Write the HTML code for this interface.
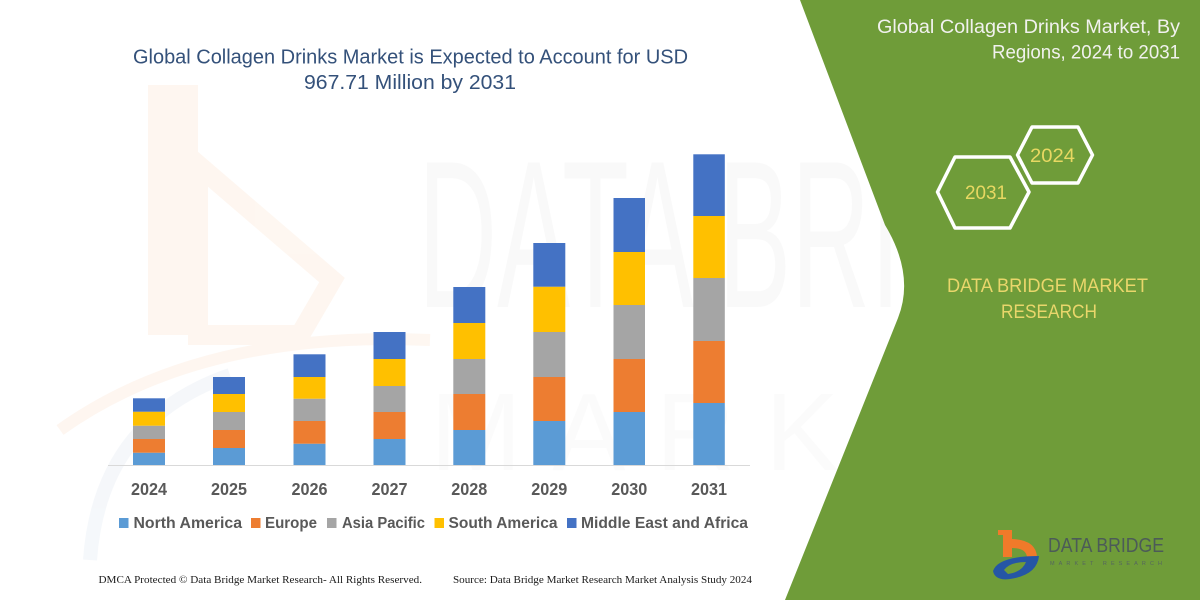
<!DOCTYPE html>
<html>
<head>
<meta charset="utf-8">
<style>
  html,body{margin:0;padding:0;background:#fff;}
  svg{display:block;}
  text{font-family:"Liberation Sans",sans-serif;}
</style>
</head>
<body>
<svg width="1200" height="600" viewBox="0 0 1200 600" xmlns="http://www.w3.org/2000/svg">
  <defs>
    <linearGradient id="ul" x1="0" x2="1" y1="0" y2="0">
      <stop offset="0" stop-color="#d8c35a"/>
      <stop offset="1" stop-color="#7d8c86"/>
    </linearGradient>
  </defs>
  <rect x="0" y="0" width="1200" height="600" fill="#ffffff"/>

  <!-- faint watermark -->
  <g opacity="0.22">
    <rect x="148" y="85" width="50" height="250" fill="#fbd9c0"/>
    <path d="M198,165 L332,280 L300,335 L198,335 Z" fill="none" stroke="#fbd9c0" stroke-width="20"/>
    <path d="M60,430 Q200,330 430,340" fill="none" stroke="#fbd9c0" stroke-width="12"/>
    <path d="M90,560 Q100,420 230,375" fill="none" stroke="#d3deec" stroke-width="14"/>
  </g>
  <text x="418" y="307" font-size="210" textLength="720" lengthAdjust="spacingAndGlyphs" fill="#000" opacity="0.018">DATA BRIDGE</text>
  <text x="430" y="470" font-size="110" textLength="640" lengthAdjust="spacingAndGlyphs" fill="#000" opacity="0.012" letter-spacing="30">MARKET</text>

  <!-- green panel -->
  <path d="M800,0 L885,225 Q915,275 898,318 L785,600 L1200,600 L1200,0 Z" fill="#6f9c39"/>

  <!-- title -->
  <text x="133" y="63.5" font-size="20" fill="#34517a" textLength="555" lengthAdjust="spacingAndGlyphs">Global Collagen Drinks Market is Expected to Account for USD</text>
  <text x="304" y="89" font-size="20" fill="#34517a" textLength="212" lengthAdjust="spacingAndGlyphs">967.71 Million by 2031</text>

  <!-- axis -->
  <line x1="108" y1="465.5" x2="750" y2="465.5" stroke="#d9d9d9" stroke-width="1"/>

  <!-- bars -->
  <g>
    <rect x="133" y="452.7" width="32" height="12.3" fill="#5b9bd5"/>
    <rect x="133" y="439" width="32" height="13.7" fill="#ed7d31"/>
    <rect x="133" y="425.7" width="32" height="13.3" fill="#a5a5a5"/>
    <rect x="133" y="411.7" width="32" height="14" fill="#ffc000"/>
    <rect x="133" y="398.3" width="32" height="13.4" fill="#4472c4"/>

    <rect x="213" y="448" width="32" height="17" fill="#5b9bd5"/>
    <rect x="213" y="430" width="32" height="18" fill="#ed7d31"/>
    <rect x="213" y="412" width="32" height="18" fill="#a5a5a5"/>
    <rect x="213" y="394" width="32" height="18" fill="#ffc000"/>
    <rect x="213" y="377" width="32" height="17" fill="#4472c4"/>

    <rect x="293.5" y="443.7" width="32" height="21.3" fill="#5b9bd5"/>
    <rect x="293.5" y="421" width="32" height="22.7" fill="#ed7d31"/>
    <rect x="293.5" y="398.7" width="32" height="22.3" fill="#a5a5a5"/>
    <rect x="293.5" y="377" width="32" height="21.7" fill="#ffc000"/>
    <rect x="293.5" y="354.3" width="32" height="22.7" fill="#4472c4"/>

    <rect x="373.5" y="439" width="32" height="26" fill="#5b9bd5"/>
    <rect x="373.5" y="412" width="32" height="27" fill="#ed7d31"/>
    <rect x="373.5" y="386" width="32" height="26" fill="#a5a5a5"/>
    <rect x="373.5" y="359" width="32" height="27" fill="#ffc000"/>
    <rect x="373.5" y="332" width="32" height="27" fill="#4472c4"/>

    <rect x="453.3" y="430" width="32" height="35" fill="#5b9bd5"/>
    <rect x="453.3" y="394" width="32" height="36" fill="#ed7d31"/>
    <rect x="453.3" y="359" width="32" height="35" fill="#a5a5a5"/>
    <rect x="453.3" y="323" width="32" height="36" fill="#ffc000"/>
    <rect x="453.3" y="287" width="32" height="36" fill="#4472c4"/>

    <rect x="533.3" y="421" width="32" height="44" fill="#5b9bd5"/>
    <rect x="533.3" y="377" width="32" height="44" fill="#ed7d31"/>
    <rect x="533.3" y="332" width="32" height="45" fill="#a5a5a5"/>
    <rect x="533.3" y="286.7" width="32" height="45.3" fill="#ffc000"/>
    <rect x="533.3" y="243" width="32" height="43.7" fill="#4472c4"/>

    <rect x="613.5" y="412" width="31.5" height="53" fill="#5b9bd5"/>
    <rect x="613.5" y="359" width="31.5" height="53" fill="#ed7d31"/>
    <rect x="613.5" y="305" width="31.5" height="54" fill="#a5a5a5"/>
    <rect x="613.5" y="252" width="31.5" height="53" fill="#ffc000"/>
    <rect x="613.5" y="198" width="31.5" height="54" fill="#4472c4"/>

    <rect x="693.3" y="403" width="31.5" height="62" fill="#5b9bd5"/>
    <rect x="693.3" y="341" width="31.5" height="62" fill="#ed7d31"/>
    <rect x="693.3" y="278" width="31.5" height="63" fill="#a5a5a5"/>
    <rect x="693.3" y="216" width="31.5" height="62" fill="#ffc000"/>
    <rect x="693.3" y="154.3" width="31.5" height="61.7" fill="#4472c4"/>
  </g>

  <!-- year labels -->
  <g font-size="17.5" font-weight="bold" fill="#595959">
    <text x="131" y="495" textLength="36" lengthAdjust="spacingAndGlyphs">2024</text>
    <text x="211" y="495" textLength="36" lengthAdjust="spacingAndGlyphs">2025</text>
    <text x="291.5" y="495" textLength="36" lengthAdjust="spacingAndGlyphs">2026</text>
    <text x="371.5" y="495" textLength="36" lengthAdjust="spacingAndGlyphs">2027</text>
    <text x="451.3" y="495" textLength="36" lengthAdjust="spacingAndGlyphs">2028</text>
    <text x="531.3" y="495" textLength="36" lengthAdjust="spacingAndGlyphs">2029</text>
    <text x="611.3" y="495" textLength="36" lengthAdjust="spacingAndGlyphs">2030</text>
    <text x="691" y="495" textLength="36" lengthAdjust="spacingAndGlyphs">2031</text>
  </g>

  <!-- legend -->
  <g font-size="15.5" font-weight="bold" fill="#595959">
    <rect x="119" y="518" width="9.5" height="10" fill="#5b9bd5"/>
    <text x="133.5" y="528" textLength="108.5" lengthAdjust="spacingAndGlyphs">North America</text>
    <rect x="251" y="518" width="9.5" height="10" fill="#ed7d31"/>
    <text x="265" y="528" textLength="52" lengthAdjust="spacingAndGlyphs">Europe</text>
    <rect x="327" y="518" width="9.5" height="10" fill="#a5a5a5"/>
    <text x="342" y="528" textLength="83" lengthAdjust="spacingAndGlyphs">Asia Pacific</text>
    <rect x="434.5" y="518" width="9.5" height="10" fill="#ffc000"/>
    <text x="448.5" y="528" textLength="109" lengthAdjust="spacingAndGlyphs">South America</text>
    <rect x="567" y="518" width="9.5" height="10" fill="#4472c4"/>
    <text x="581" y="528" textLength="167" lengthAdjust="spacingAndGlyphs">Middle East and Africa</text>
  </g>

  <!-- footer -->
  <g font-size="10.5" fill="#1a1a1a">
    <text x="98.5" y="583" textLength="323.5" lengthAdjust="spacingAndGlyphs" style="font-family:'Liberation Serif',serif">DMCA Protected © Data Bridge Market Research-  All Rights Reserved.</text>
    <text x="453" y="583" textLength="299" lengthAdjust="spacingAndGlyphs" style="font-family:'Liberation Serif',serif">Source: Data Bridge Market Research  Market Analysis Study 2024</text>
  </g>

  <!-- right panel heading -->
  <g font-size="19" fill="#f1f1ee">
    <text x="877" y="33" textLength="303" lengthAdjust="spacingAndGlyphs">Global Collagen Drinks Market, By</text>
    <text x="992" y="58.5" textLength="188" lengthAdjust="spacingAndGlyphs">Regions, 2024 to 2031</text>
  </g>

  <!-- hexagons -->
  <g fill="none" stroke="#ffffff" stroke-width="3.5" stroke-linejoin="round">
    <path d="M937.5,192 L955,157 L1010,157 L1029,192 L1010,228 L955,228 Z"/>
    <path d="M1017.5,155 L1032,127 L1078,127 L1092.5,155 L1078,183 L1032,183 Z"/>
  </g>
  <g font-size="19" fill="#e8d862">
    <text x="965" y="199" textLength="42" lengthAdjust="spacingAndGlyphs">2031</text>
    <text x="1030" y="162" textLength="45" lengthAdjust="spacingAndGlyphs">2024</text>
  </g>

  <!-- DATA BRIDGE MARKET RESEARCH -->
  <g font-size="19" fill="#e9d66b">
    <text x="947" y="292" textLength="201" lengthAdjust="spacingAndGlyphs">DATA BRIDGE MARKET</text>
    <text x="1001" y="318" textLength="96" lengthAdjust="spacingAndGlyphs">RESEARCH</text>
  </g>

  <!-- logo -->
  <g>
    <rect x="998" y="530" width="14" height="5" fill="#f07a2a"/>
    <rect x="1003" y="530" width="9" height="27" fill="#f07a2a"/>
    <path d="M1012,539 Q1036,540 1037,557 L1027,557 Q1026,548 1012,548 Z" fill="#f07a2a"/>
    <path d="M993,571 Q998,556 1039,556 Q1037,575 1010,579 Q995,581 993,571 Z" fill="#2556a5"/>
    <path d="M1004,570 Q1010,562 1026,562 Q1022,572 1008,574 Z" fill="#6f9c39"/>
    <text x="1048" y="552" font-size="20" fill="#4c5b58" textLength="116" lengthAdjust="spacingAndGlyphs">DATA BRIDGE</text>
    <line x1="1048" y1="555.5" x2="1166" y2="555.5" stroke="url(#ul)" stroke-width="1.5"/>
    <text x="1050" y="565" font-size="5.5" fill="#55655f" textLength="112" lengthAdjust="spacing">MARKET RESEARCH</text>
  </g>
</svg>
</body>
</html>
